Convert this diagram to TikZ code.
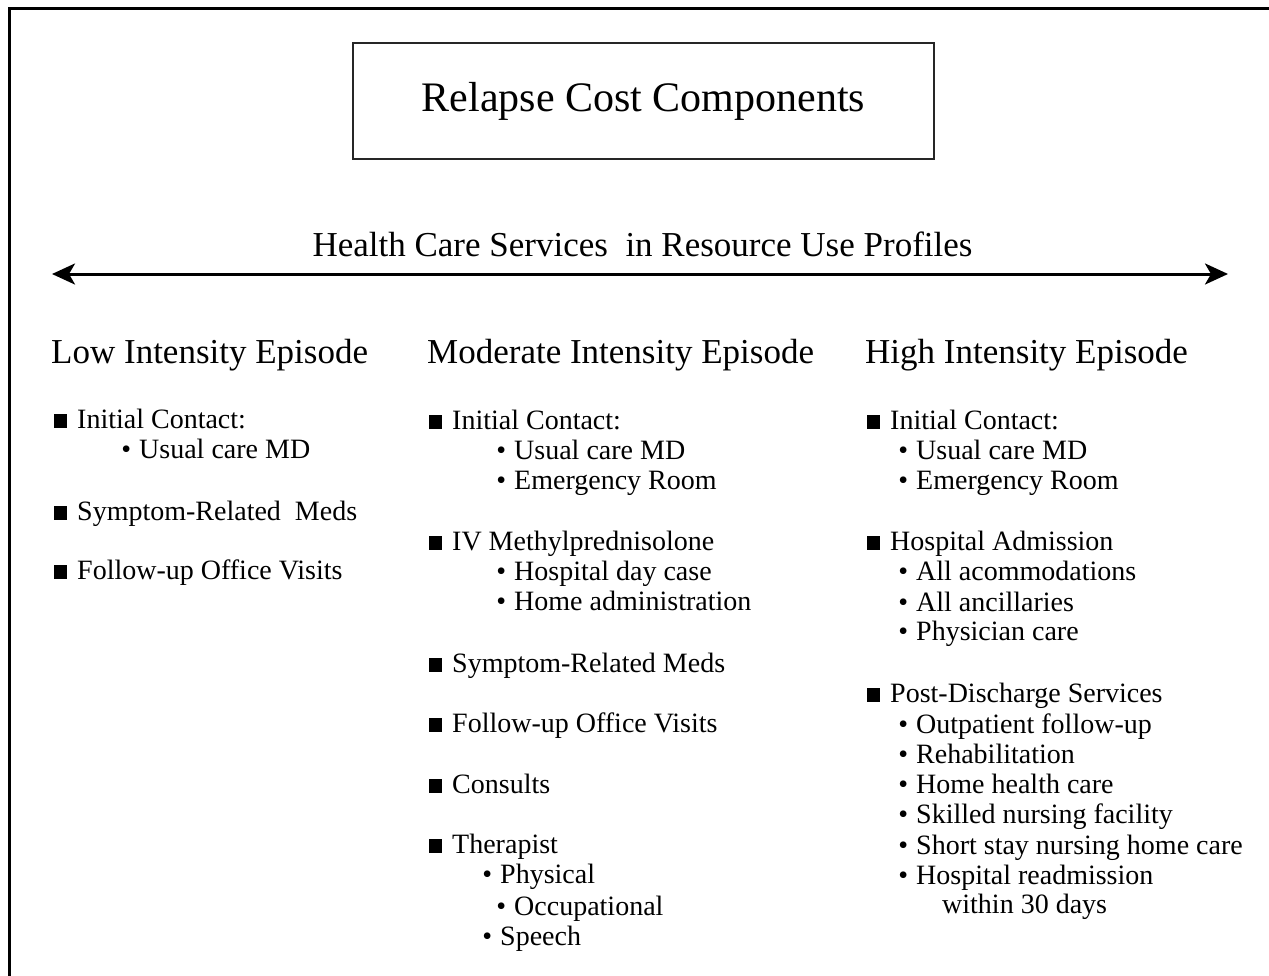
\documentclass[tikz,border=0pt]{standalone}
\usepackage{fontspec}
\setmainfont{Liberation Serif}
\usepackage{tikz}
\usetikzlibrary{arrows.meta, positioning}

\newcommand{\sq}{\llap{\rule[0.5pt]{13pt}{13.5pt}\hspace{10.5pt}}}
\newcommand{\bu}{\llap{•\hspace{8pt}}}

\begin{document}
\begin{tikzpicture}[x=1pt, y=-1pt,
            every node/.style={inner sep=0pt},
            titlebox/.style={draw=black!85, line width=1.1pt, minimum width=581pt, minimum height=116pt, font=\fontsize{42}{50}\selectfont},
            head/.style={anchor=base west, font=\fontsize{35}{42}\selectfont},
            entry/.style={anchor=base west, font=\fontsize{28}{31}\selectfont},
        ]
        \clip (0,0) rectangle (1269,975);
        \draw[line width=3pt] (9,990) -- (9,8) -- (1290,8);

        \node[titlebox] (title) at (643.5,101) {Relapse Cost Components};
        \node[anchor=base, font=\fontsize{35}{42}\selectfont] (scale) at (642.5,256) {Health Care Services~ in Resource Use Profiles};

        \coordinate (lo) at (52,274);
        \coordinate (hi) at (1228,274);
        \draw[line width=3pt, {Stealth[length=23pt, width=21pt, inset=6pt]}-{Stealth[length=23pt, width=21pt, inset=6pt]}] (lo) -- (hi);

        % low intensity
        \node[head] (l0) at (51,363) {Low Intensity Episode};
        \node[entry] (l1) at (77,428) {\sq Initial Contact:};
        \node[entry] (l2) at (139,458) {\bu Usual care MD};
        \node[entry] (l3) at (77,520) {\sq Symptom-Related~ Meds};
        \node[entry] (l4) at (77,579) {\sq Follow-up Office Visits};

        % moderate intensity
        \node[head] (m0) at (427,363) {Moderate Intensity Episode};
        \node[entry] (m1) at (452,429) {\sq Initial Contact:};
        \node[entry] (m2) at (514,459) {\bu Usual care MD};
        \node[entry] (m3) at (514,489) {\bu Emergency Room};
        \node[entry] (m4) at (452,550) {\sq IV Methylprednisolone};
        \node[entry] (m5) at (514,580) {\bu Hospital day case};
        \node[entry] (m6) at (514,610) {\bu Home administration};
        \node[entry] (m7) at (452,672) {\sq Symptom-Related Meds};
        \node[entry] (m8) at (452,732) {\sq Follow-up Office Visits};
        \node[entry] (m9) at (452,793) {\sq Consults};
        \node[entry] (m10) at (452,853) {\sq Therapist};
        \node[entry] (m11) at (500,883) {\bu Physical};
        \node[entry] (m12) at (514,915) {\bu Occupational};
        \node[entry] (m13) at (500,945) {\bu Speech};

        % high intensity
        \node[head] (h0) at (865,363) {High Intensity Episode};
        \node[entry] (h1) at (890,429) {\sq Initial Contact:};
        \node[entry] (h2) at (916,459) {\bu Usual care MD};
        \node[entry] (h3) at (916,489) {\bu Emergency Room};
        \node[entry] (h4) at (890,550) {\sq Hospital Admission};
        \node[entry] (h5) at (916,580) {\bu All acommodations};
        \node[entry] (h6) at (916,611) {\bu All ancillaries};
        \node[entry] (h7) at (916,640) {\bu Physician care};
        \node[entry] (h8) at (890,702) {\sq Post-Discharge Services};
        \node[entry] (h9) at (916,733) {\bu Outpatient follow-up};
        \node[entry] (h10) at (916,763) {\bu Rehabilitation};
        \node[entry] (h11) at (916,793) {\bu Home health care};
        \node[entry] (h12) at (916,823) {\bu Skilled nursing facility};
        \node[entry] (h13) at (916,854) {\bu Short stay nursing home care};
        \node[entry] (h14) at (916,884) {\bu Hospital readmission};
        \node[entry] (h15) at (942,913) {within 30 days};
\end{tikzpicture}
\end{document}
